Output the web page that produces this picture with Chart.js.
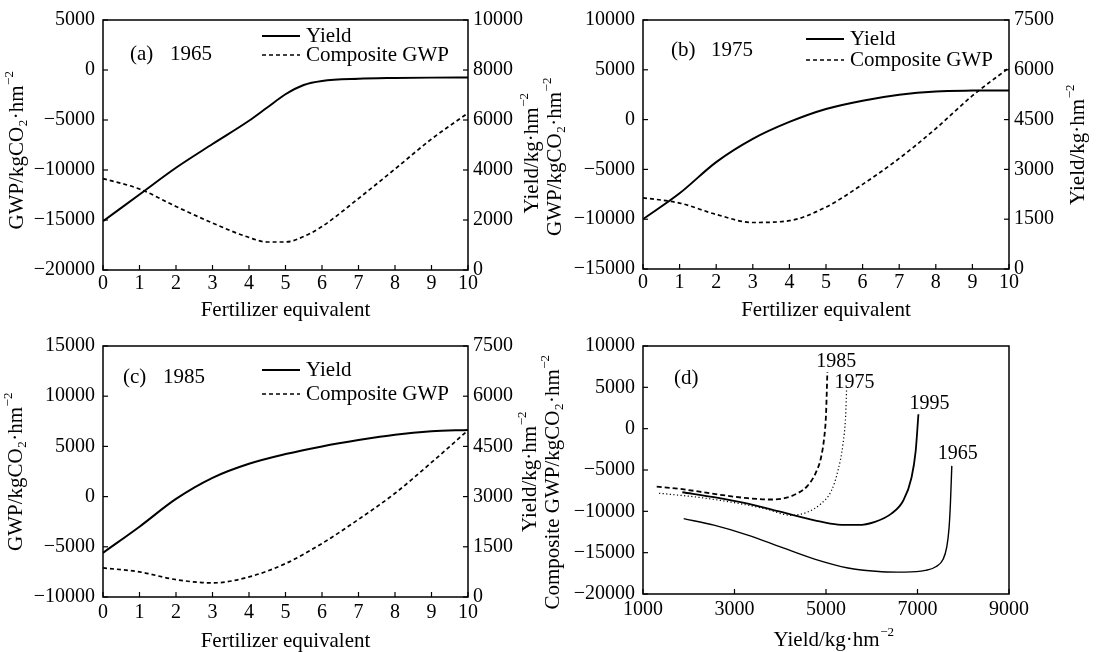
<!DOCTYPE html>
<html>
<head>
<meta charset="utf-8">
<script src="https://cdn.jsdelivr.net/npm/chart.js@4.4.1/dist/chart.umd.min.js"></script>
<style>
  html, body { margin: 0; padding: 0; background: #fff; }
  #wrap { position: relative; width: 1098px; height: 652px; overflow: hidden; }
  canvas { position: absolute; }
</style>
</head>
<body>
<div id="wrap">
  <canvas id="pa" width="545" height="326" style="left:0;top:0"></canvas>
  <canvas id="pb" width="563" height="326" style="left:535px;top:0"></canvas>
  <canvas id="pc" width="545" height="326" style="left:0;top:326px"></canvas>
  <canvas id="pd" width="563" height="326" style="left:535px;top:326px"></canvas>
</div>
<script>
/* ── data ── */

// (a) 1965
const fertA  = [0, 1, 2, 3, 4, 4.5, 5, 5.5, 6, 7, 8, 9, 10];
const yieldA = [1950, 3020, 4090, 5040, 5970, 6500, 7030, 7400, 7560, 7650, 7680, 7695, 7700];
const gwpA   = [-10860, -11900, -13650, -15300, -16750, -17200, -17200, -16650, -15650, -12850, -9900, -6900, -4300];

// (b) 1975, (c) 1985
const fert   = [0, 1, 2, 3, 4, 5, 6, 7, 8, 9, 10];
const yieldB = [1500, 2280, 3220, 3920, 4430, 4820, 5070, 5250, 5350, 5375, 5380];
const gwpB   = [-7850, -8380, -9520, -10330, -10150, -8780, -6500, -3900, -900, 2400, 5200];
const yieldC = [1320, 2100, 2930, 3560, 3980, 4270, 4500, 4690, 4850, 4950, 4990];
const gwpC   = [-7100, -7500, -8270, -8600, -8000, -6670, -4670, -2270, 330, 3400, 6600];

// (d) composite GWP against yield
const d1965Yield = [1890, 2550, 3290, 4020, 4750, 5480, 6220, 6730, 7170, 7400, 7560, 7640, 7690, 7720, 7750];
const d1965Gwp   = [-10880, -11670, -12870, -14340, -15780, -16850, -17300, -17350, -17150, -16700, -15800, -14300, -12000, -9000, -4500];
const d1995Yield = [1860, 2550, 3290, 4020, 4750, 5260, 5700, 6070, 6430, 6690, 6870, 6960, 7020];
const d1995Gwp   = [-7690, -8290, -9080, -10080, -11080, -11600, -11650, -11270, -10280, -8690, -5900, -2710, 1750];
const d1985Yield = [1300, 1820, 2550, 3290, 3800, 4090, 4380, 4600, 4780, 4890, 4960, 5000, 5030];
const d1985Gwp   = [-7010, -7290, -7890, -8410, -8570, -8410, -7810, -6890, -5300, -3510, -1120, 1670, 6850];
const d1975Yield = [1350, 2190, 2920, 3660, 4240, 4600, 4890, 5120, 5260, 5370, 5430, 5450];
const d1975Gwp   = [-7810, -8290, -8880, -9680, -10480, -10080, -9080, -7490, -5100, -1910, 1670, 4860];

/* ── helpers ── */

const FONT = '"Liberation Serif", "Times New Roman", serif';
const minus = v => String(v).replace('-', '\u2212');
const pts = (xs, ys) => xs.map((x, i) => ({ x, y: ys[i] }));

const GWP_TITLE   = [{ t: 'GWP/kgCO' }, { t: '2', s: 'sub' }, { t: '·hm' }, { t: '\u22122', s: 'sup' }];
const COMP_TITLE  = [{ t: 'Composite GWP/kgCO' }, { t: '2', s: 'sub' }, { t: '·hm' }, { t: '\u22122', s: 'sup' }];
const YIELD_TITLE = [{ t: 'Yield/kg·hm' }, { t: '\u22122', s: 'sup' }];
const FERT_TITLE  = [{ t: 'Fertilizer equivalent' }];

function drawRich(ctx, runs, x, y, rot, size) {
    const small = Math.round(size * 0.62);
    const fontOf = r => `${r.s ? small : size}px ${FONT}`;
    let w = 0;
    runs.forEach(r => { ctx.font = fontOf(r); w += ctx.measureText(r.t).width + (r.s ? 1 : 0); });
    ctx.save();
    ctx.translate(x, y);
    ctx.rotate(rot);
    ctx.textAlign = 'left';
    ctx.textBaseline = 'middle';
    let px = -w / 2;
    runs.forEach(r => {
        ctx.font = fontOf(r);
        const dy = r.s === 'sub' ? size * 0.3 : r.s === 'sup' ? -size * 0.36 : 0;
        ctx.fillText(r.t, px + (r.s ? 0.5 : 0), dy);
        px += ctx.measureText(r.t).width + (r.s ? 1 : 0);
    });
    ctx.restore();
}

// box, inward ticks, in-plot texts, axis titles, end labels (config kept in a closure)
function framePlugin(o) {
    return {
        id: 'frame',
        afterDatasetsDraw(chart) {
            const { ctx, chartArea: ca } = chart;
            ctx.save();
            ctx.strokeStyle = '#000';
            ctx.fillStyle = '#000';
            ctx.lineWidth = 1.5;
            ctx.strokeRect(ca.left, ca.top, ca.right - ca.left, ca.bottom - ca.top);

            ctx.lineWidth = 1.2;
            o.tickAxes.forEach(id => {
                const s = chart.scales[id];
                s.ticks.forEach(t => {
                    const p = s.getPixelForValue(t.value);
                    ctx.beginPath();
                    if (s.isHorizontal()) { ctx.moveTo(p, ca.bottom); ctx.lineTo(p, ca.bottom - 5); }
                    else if (s.position === 'left') { ctx.moveTo(ca.left, p); ctx.lineTo(ca.left + 5, p); }
                    else { ctx.moveTo(ca.right, p); ctx.lineTo(ca.right - 5, p); }
                    ctx.stroke();
                });
            });

            ctx.textAlign = 'left';
            ctx.textBaseline = 'middle';
            ctx.font = `21px ${FONT}`;
            o.labels.forEach(l => ctx.fillText(l.text, ca.left + l.dx, ca.top + l.dy));

            o.keys.forEach(k => {
                ctx.setLineDash(k.dash);
                ctx.lineWidth = k.width;
                ctx.beginPath();
                ctx.moveTo(ca.left + k.dx, ca.top + k.dy);
                ctx.lineTo(ca.left + k.dx + 38, ca.top + k.dy);
                ctx.stroke();
                ctx.setLineDash([]);
                ctx.fillText(k.text, ca.left + k.dx + 44, ca.top + k.dy);
            });

            const cx = (ca.left + ca.right) / 2, cy = (ca.top + ca.bottom) / 2;
            o.titles.forEach(t => {
                if (t.side === 'bottom') {
                    drawRich(ctx, t.runs, cx + t.shift, ca.bottom + t.off, 0, 21);
                } else {
                    const x = (t.side === 'left' ? ca.left : ca.right) + t.off;
                    drawRich(ctx, t.runs, x, cy + t.shift, -Math.PI / 2, 21);
                }
            });

            ctx.textAlign = 'center';
            ctx.font = `20px ${FONT}`;
            chart.data.datasets.forEach((d, i) => {
                if (!d.endLabel) return;
                const els = chart.getDatasetMeta(i).data;
                const p = els[els.length - 1];
                ctx.fillText(d.endLabel.text, p.x + d.endLabel.dx, p.y + d.endLabel.dy);
            });
            ctx.restore();
        },
    };
}

function tickFont(padding) {
    return { font: { family: FONT, size: 20 }, color: '#000', padding, callback: minus };
}

function yAxis(pos, min, max, step, width) {
    return {
        type: 'linear', position: pos, min, max,
        ticks: { ...tickFont(pos === 'left' ? 8 : 5), stepSize: step },
        grid: { display: false, drawTicks: false },
        border: { display: false },
        afterFit: s => { s.width = width; },
    };
}

function xAxis(min, max, step, height, pad) {
    return {
        type: 'linear', min, max,
        ticks: { ...tickFont(pad), stepSize: step, autoSkip: false, maxRotation: 0 },
        grid: { display: false, drawTicks: false },
        border: { display: false },
        afterFit: s => { s.height = height; },
    };
}

function line(data, axis, dash, width) {
    return {
        data, yAxisID: axis,
        borderColor: '#000', borderWidth: width, borderDash: dash,
        pointRadius: 0, fill: false, cubicInterpolationMode: 'monotone',
    };
}

function fertPanel(id, cfg) {
    new Chart(document.getElementById(id), {
        type: 'line',
        data: {
            datasets: [
                line(pts(cfg.x, cfg.yield), 'y2', [], 2),
                line(pts(cfg.x, cfg.gwp), 'y', [4, 3], 1.7),
            ],
        },
        options: {
            responsive: false, animation: false, events: [],
            layout: { padding: { top: cfg.top, left: 0, right: 0, bottom: 0 } },
            plugins: { legend: { display: false }, tooltip: { enabled: false } },
            scales: {
                x: xAxis(0, 10, 1, cfg.xh, cfg.xpad),
                y: yAxis('left', cfg.gMin, cfg.gMax, 5000, cfg.yw),
                y2: yAxis('right', 0, cfg.yMax, cfg.yStep, cfg.y2w),
            },
        },
        plugins: [framePlugin({
            tickAxes: ['x', 'y', 'y2'],
            labels: [{ text: cfg.tag, dx: cfg.tagDx, dy: cfg.tagDy }, { text: cfg.year, dx: cfg.tagDx + 40, dy: cfg.tagDy }],
            keys: [
                { text: 'Yield', dx: cfg.keyDx, dy: cfg.keyDy[0], width: 2, dash: [] },
                { text: 'Composite GWP', dx: cfg.keyDx, dy: cfg.keyDy[1], width: 1.7, dash: [4, 3] },
            ],
            titles: [
                { side: 'left', runs: GWP_TITLE, off: cfg.leftOff, shift: cfg.leftShift },
                { side: 'right', runs: YIELD_TITLE, off: cfg.rightOff, shift: cfg.rightShift },
                { side: 'bottom', runs: FERT_TITLE, off: cfg.bottomOff, shift: 0 },
            ],
        })],
    });
}

/* ── panels ── */

fertPanel('pa', {
    x: fertA, yield: yieldA, gwp: gwpA, tag: '(a)', year: '1965',
    top: 17, yw: 103, y2w: 77, xh: 56, xpad: 2,
    gMin: -20000, gMax: 5000, yMax: 10000, yStep: 2000,
    tagDx: 27, tagDy: 34, keyDx: 159, keyDy: [16, 35],
    leftOff: -86, leftShift: 5, rightOff: 64, rightShift: 8, bottomOff: 40,
});

fertPanel('pb', {
    x: fert, yield: yieldB, gwp: gwpB, tag: '(b)', year: '1975',
    top: 17, yw: 108, y2w: 89, xh: 57, xpad: 2,
    gMin: -15000, gMax: 10000, yMax: 7500, yStep: 1500,
    tagDx: 28, tagDy: 30, keyDx: 163, keyDy: [19, 40],
    leftOff: -88, leftShift: 12, rightOff: 69, rightShift: 0, bottomOff: 41,
});

fertPanel('pc', {
    x: fert, yield: yieldC, gwp: gwpC, tag: '(c)', year: '1985',
    top: 20, yw: 103, y2w: 77, xh: 55, xpad: 4,
    gMin: -10000, gMax: 15000, yMax: 7500, yStep: 1500,
    tagDx: 20, tagDy: 31, keyDx: 159, keyDy: [24, 48],
    leftOff: -87, leftShift: 0, rightOff: 62, rightShift: 0, bottomOff: 44,
});

const dSet = (xs, ys, dash, width, text, dx, dy) =>
    ({ ...line(pts(xs, ys), 'y', dash, width), endLabel: { text, dx, dy } });

new Chart(document.getElementById('pd'), {
    type: 'line',
    data: {
        datasets: [
            dSet(d1965Yield, d1965Gwp, [], 1.4, '1965', 6, -12),
            dSet(d1995Yield, d1995Gwp, [], 1.8, '1995', 11, -10),
            dSet(d1985Yield, d1985Gwp, [5, 3], 1.8, '1985', 9, -10),
            dSet(d1975Yield, d1975Gwp, [1.2, 2.4], 1.2, '1975', 8, -6),
        ],
    },
    options: {
        responsive: false, animation: false, events: [],
        layout: { padding: { top: 15, left: 0, right: 89, bottom: 0 } },
        plugins: { legend: { display: false }, tooltip: { enabled: false } },
        scales: {
            x: xAxis(1000, 9000, 2000, 58, 4),
            y: yAxis('left', -20000, 10000, 5000, 108),
        },
    },
    plugins: [framePlugin({
        tickAxes: ['x', 'y'],
        labels: [{ text: '(d)', dx: 31, dy: 32 }],
        keys: [],
        titles: [
            { side: 'left', runs: COMP_TITLE, off: -90, shift: 12 },
            { side: 'bottom', runs: YIELD_TITLE, off: 46, shift: 8 },
        ],
    })],
});
</script>
</body>
</html>
